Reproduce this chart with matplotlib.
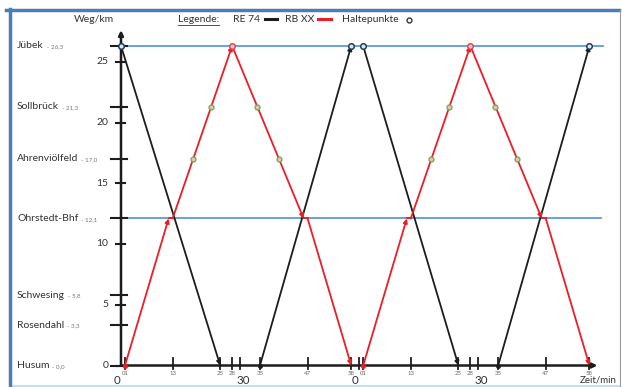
import numpy as np
import matplotlib
matplotlib.use("Agg")
import matplotlib.pyplot as plt
from matplotlib.lines import Line2D

plt.rcParams['font.family'] = ['Lato', 'DejaVu Sans']

# Stations along the line (km)
stations = ["Husum", "Rosendahl", "Schwesing", "Ohrstedt-Bhf",
            "Ahrenviölfeld", "Sollbrück", "Jübek"]
station_km = [0.0, 3.3, 5.8, 12.1, 17.0, 21.3, 26.3]
station_km_txt = ["0,0", "3,3", "5,8", "12,1", "17,0", "21,3", "26,3"]

# RE 74 runs (minutes, km), no stops in between
re74_t = [[0, 25], [35, 58], [61, 85], [95, 118]]
re74_km = [[26.3, 0.0], [0.0, 26.3], [26.3, 0.0], [0.0, 26.3]]

# RB XX runs, stop at Ohrstedt
rb_t = [[1, 12, 13, 28, 46, 47, 58], [61, 72, 73, 88, 106, 107, 118]]
rb_km = [[0.0, 12.1, 12.1, 26.3, 12.1, 12.1, 0.0],
         [0.0, 12.1, 12.1, 26.3, 12.1, 12.1, 0.0]]

# Haltepunkte (intermediate stops of RB XX)
halt_t = [18.2, 22.7, 34.3, 39.8, 78.2, 82.7, 94.3, 99.8]
halt_km = [17.0, 21.3, 21.3, 17.0, 17.0, 21.3, 21.3, 17.0]

# x axis ticks
xtick_t = [1, 13, 25, 28, 30, 35, 47, 58, 60, 61, 73, 85, 88, 90, 95, 107, 118]
xtick_lab = ["01", "13", "25", "28", "", "35", "47", "58", "", "01", "13",
             "25", "28", "", "35", "47", "58"]
big_t = [0, 30, 60, 90]
big_lab = ["0", "30", "0", "30"]
ytick_v = [0, 5, 10, 15, 20, 25]

W, H = 622, 387
fig = plt.figure(figsize=(W / 100, H / 100), dpi=100)
ax = fig.add_axes([0, 0, 1, 1])
ax.axis('off')

# pixel mapping: t=0 -> x 121 px, 3.97 px/min ; km=0 -> y 365.5 px, 12.15 px/km
sx, x0 = 3.97, 121
sy, y0 = 12.15, 365.5
ax.set_xlim(-x0 / sx, (W - x0) / sx)
ax.set_ylim(-(H - y0) / sy, y0 / sy)

def fx(px):
    return px / W

def fy(py):
    return 1 - py / H

# frame
fig.add_artist(Line2D([fx(6), fx(619)], [fy(10), fy(10)], color='#4a7ebb', lw=2.5))
fig.add_artist(Line2D([fx(9.5), fx(9.5)], [fy(9), fy(387)], color='#4a7ebb', lw=2.5))
fig.add_artist(Line2D([fx(620), fx(620)], [fy(10), fy(387)], color='#9a9a9a', lw=0.8))
fig.add_artist(Line2D([fx(10), fx(620)], [fy(386), fy(386)], color='#bde3ef', lw=1.5,
                      zorder=-1))

blue = '#5b9bd5'
red = '#ee1c25'
black = '#1c1c1c'

# horizontal lines at Jübek and Ohrstedt
ax.plot([0, 121.5], [26.3, 26.3], color=blue, lw=1.3, zorder=1)
ax.plot([0, 121], [12.1, 12.1], color=blue, lw=1.3, zorder=1)

# axes with arrows
ax.annotate('', xy=(0, 27.6), xytext=(0, 0),
            arrowprops=dict(arrowstyle='-|>', color=black, lw=1.8,
                            mutation_scale=7, shrinkA=0, shrinkB=0))
ax.annotate('', xy=(120.0, 0), xytext=(0, 0),
            arrowprops=dict(arrowstyle='-|>', color=black, lw=1.8,
                            mutation_scale=7, shrinkA=0, shrinkB=0))

# y ticks
for v in ytick_v:
    ax.plot([-1.2, 1.0], [v, v], color=black, lw=1.5)
    ax.text(-3.2, v, str(v), ha='right', va='center', fontsize=7.5, color='#333333')
for k in station_km:
    ax.plot([-2.4, 1.4], [k, k], color=black, lw=1.5)

# x ticks
ty_small = -(373.3 - y0) / sy
ty_big = -(375.5 - y0) / sy
for t, lab in zip(xtick_t, xtick_lab):
    ax.plot([t, t], [-0.3, 0.6], color=black, lw=1.3)
    if lab:
        ax.text(t, ty_small, lab, ha='center', va='center', fontsize=4.3, color='#666666')
for t, lab in zip(big_t, big_lab):
    dx = -1.0 if lab == "0" else 0.8
    ax.text(t + dx, ty_big, lab, ha='center', va='top', fontsize=8.3, color='#333333')
ax.text(124.8, ty_big, "Zeit/min", ha='right', va='top', fontsize=7, color='#333333')

# RE 74
for ts, ks in zip(re74_t, re74_km):
    ax.annotate('', xy=(ts[1], ks[1]), xytext=(ts[0], ks[0]),
                arrowprops=dict(arrowstyle='-|>', color=black, lw=1.3,
                                mutation_scale=6, shrinkA=0, shrinkB=0), zorder=3)
    ax.plot(ts[0], ks[0], 'o', color=black, ms=2.5, zorder=4)

# RB XX
for ts, ks in zip(rb_t, rb_km):
    for i in range(len(ts) - 1):
        if ks[i] == ks[i + 1]:
            ax.plot(ts[i:i + 2], ks[i:i + 2], color=red, lw=1.3, zorder=3)
        else:
            ax.annotate('', xy=(ts[i + 1], ks[i + 1]), xytext=(ts[i], ks[i]),
                        arrowprops=dict(arrowstyle='-|>', color=red, lw=1.3,
                                        mutation_scale=6, shrinkA=0, shrinkB=0), zorder=3)
    ax.plot(ts[0], ks[0], 'o', color=red, ms=2.5, zorder=4)

# stops at Jübek
for ts, ks in zip(re74_t, re74_km):
    for t, k in zip(ts, ks):
        if k > 26:
            ax.plot(t, k, 'o', mfc='#dfe8f0', mec='#1f3f60', ms=4, mew=1.1, zorder=5)
for ts, ks in zip(rb_t, rb_km):
    for t, k in zip(ts, ks):
        if k > 26:
            ax.plot(t, k, 'o', mfc='#f4c0c0', mec='#e04050', ms=4, mew=1.0, zorder=5)
ax.plot(halt_t, halt_km, 'o', ls='none', mfc='#c8d8a8', mec='#8aa060', ms=3.5, mew=1.0, zorder=5)

# station labels
fig.canvas.draw()
r = fig.canvas.get_renderer()
for name, k, txt in zip(stations, station_km, station_km_txt):
    y = fy(y0 - k * sy)
    t1 = fig.text(fx(17), y, name, ha='left', va='center', fontsize=7.5, color='#333333')
    bb = t1.get_window_extent(renderer=r)
    fig.text((bb.x1 + 3) / W, y - 0.002, "- " + txt, ha='left', va='center',
             fontsize=4.5, color='#777777')

# axis title and legend
fig.text(fx(74), fy(19), "Weg/km", ha='left', va='center', fontsize=7.5, color='#333333')
lg = fig.text(fx(178), fy(19), "Legende:", ha='left', va='center', fontsize=7.5, color='#333333')
bb = lg.get_window_extent(renderer=r)
fig.add_artist(Line2D([bb.x0 / W, bb.x1 / W], [fy(25), fy(25)], color='#333333', lw=0.6))
fig.text(fx(233), fy(19), "RE 74", ha='left', va='center', fontsize=7.5, color='#333333')
fig.add_artist(Line2D([fx(265), fx(277)], [fy(19), fy(19)], color=black, lw=2.2))
fig.text(fx(285), fy(19), "RB XX", ha='left', va='center', fontsize=7.5, color='#333333')
fig.add_artist(Line2D([fx(318), fx(331)], [fy(19), fy(19)], color=red, lw=2.2))
fig.text(fx(342), fy(19), "Haltepunkte", ha='left', va='center', fontsize=7.5, color='#333333')
fig.add_artist(Line2D([fx(409)], [fy(20)], marker='o', mfc='white', mec='#333333',
                      ms=3.5, mew=1.0, ls='none'))

fig.savefig("out.png", dpi=100)
